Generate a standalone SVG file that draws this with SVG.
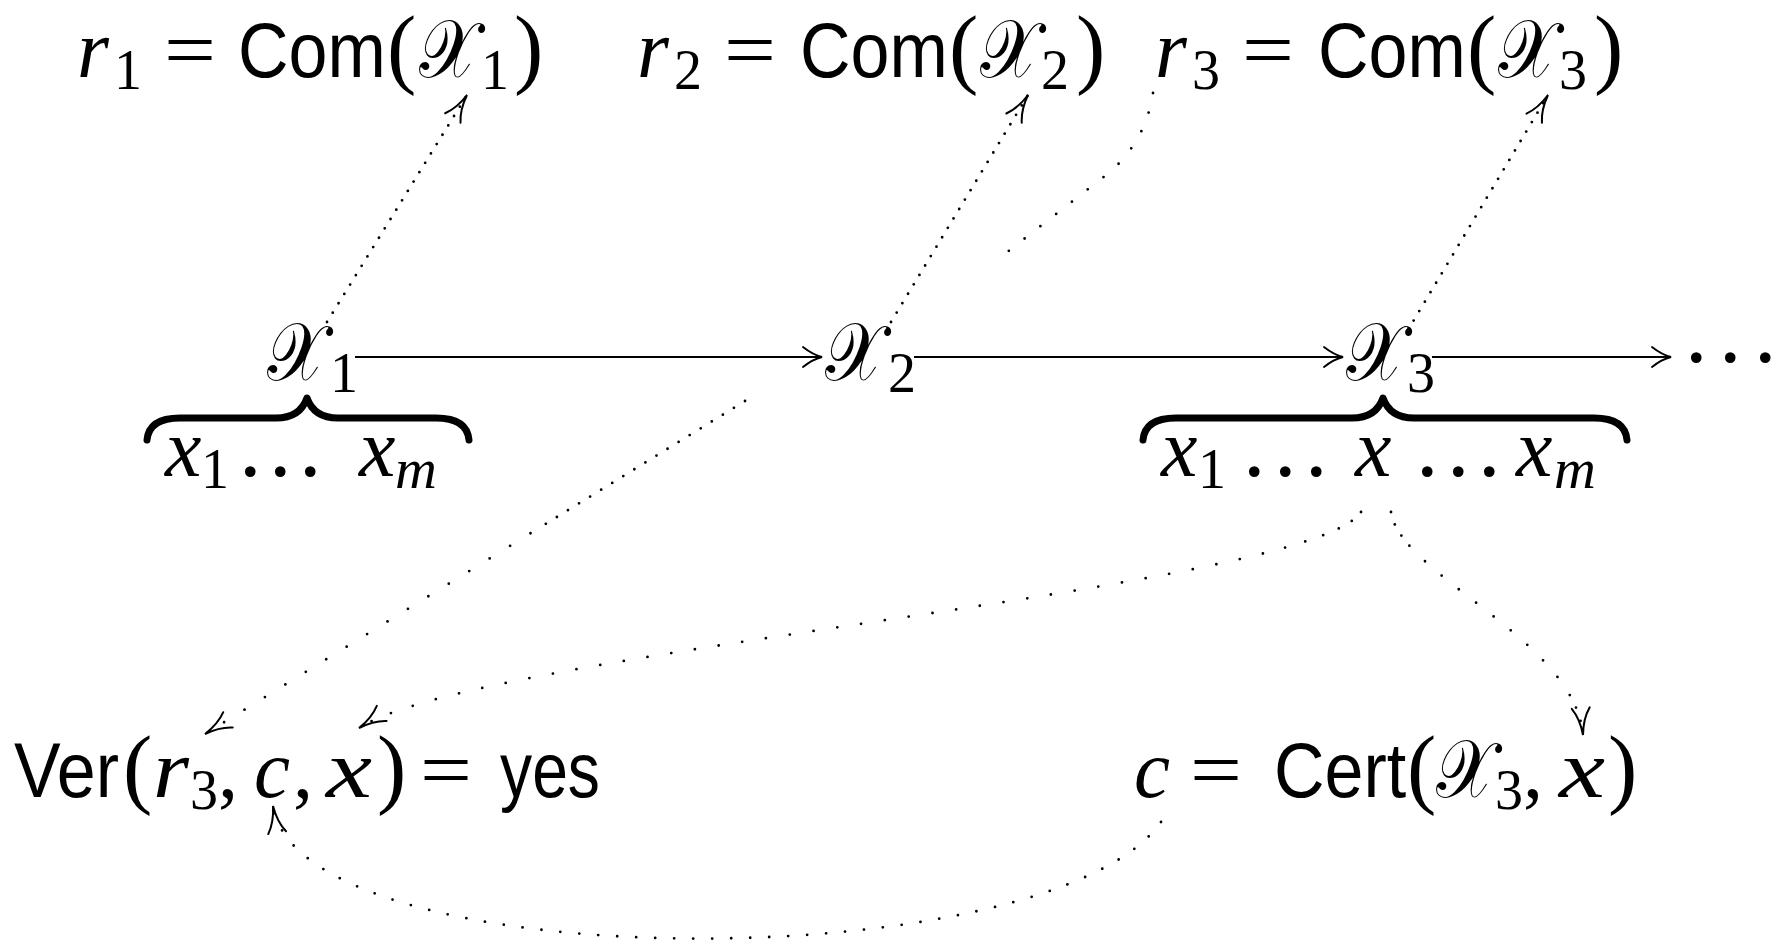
<svg xmlns="http://www.w3.org/2000/svg" width="1785" height="941" viewBox="0 0 1785 941">
<style>
text{fill:#000}
.mi{font-family:"Liberation Serif",serif;font-style:italic;font-size:82px}
.rm{font-family:"Liberation Serif",serif;font-size:80px}
.dots{font-family:"Liberation Serif",serif;font-size:90px}
.par{font-family:"Liberation Serif",serif;font-size:88px}
.sub{font-family:"Liberation Serif",serif;font-size:56px}
.subi{font-family:"Liberation Serif",serif;font-style:italic;font-size:58px}
.sf{font-family:"Liberation Sans",sans-serif;font-size:70px}
.cal{font-family:"DejaVu Serif","DejaVu Sans","Liberation Serif",serif;font-size:68px}
.solid{fill:none;stroke:#000;stroke-width:1.8}
.dot{fill:none;stroke:#000;stroke-width:2.8;stroke-linecap:round;stroke-dasharray:0 11}
.brace{fill:none;stroke:#000;stroke-width:7;stroke-linecap:round;stroke-linejoin:round}
</style>
<defs>
<marker id="ah" viewBox="-24 -14 28 28" refX="0" refY="0" markerWidth="28" markerHeight="28" markerUnits="userSpaceOnUse" orient="auto">
<path d="M-19,-10 C-12,-4.5 -5,-1.2 0,0 C-5,1.2 -12,4.5 -19,10" fill="none" stroke="#000" stroke-width="1.9" stroke-dasharray="none" stroke-linecap="round"/>
</marker>
<marker id="ahd" viewBox="-32 -14 36 28" refX="0" refY="0" markerWidth="36" markerHeight="28" markerUnits="userSpaceOnUse" orient="auto">
<path d="M-27,-9 C-19,-3.5 -8,-0.8 0,0 C-8,0.8 -19,3.5 -27,9" fill="none" stroke="#000" stroke-width="2" stroke-dasharray="none" stroke-linecap="round"/>
</marker>
</defs>

<g id="com1">
<text class="mi" x="77" y="77">r</text><text class="sub" x="114" y="89">1</text>
<text class="rm" x="164" y="77" textLength="52" lengthAdjust="spacingAndGlyphs">=</text>
<text class="sf" transform="translate(238,77) scale(1,1.1)">Com</text>
<text class="par" x="387" y="77">(</text>
<text class="cal" transform="translate(419,77) scale(1,1.2)">𝒳</text><text class="sub" x="481" y="89">1</text>
<text class="par" x="514" y="77">)</text>
</g>
<g id="com2">
<text class="mi" x="637" y="77">r</text><text class="sub" x="674" y="89">2</text>
<text class="rm" x="724" y="77" textLength="52" lengthAdjust="spacingAndGlyphs">=</text>
<text class="sf" transform="translate(800,77) scale(1,1.1)">Com</text>
<text class="par" x="949" y="77">(</text>
<text class="cal" transform="translate(980,77) scale(1,1.2)">𝒳</text><text class="sub" x="1041" y="89">2</text>
<text class="par" x="1076" y="77">)</text>
</g>
<g id="com3">
<text class="mi" x="1155" y="77">r</text><text class="sub" x="1192" y="89">3</text>
<text class="rm" x="1242" y="77" textLength="52" lengthAdjust="spacingAndGlyphs">=</text>
<text class="sf" transform="translate(1318,77) scale(1,1.1)">Com</text>
<text class="par" x="1467" y="77">(</text>
<text class="cal" transform="translate(1498,77) scale(1,1.2)">𝒳</text><text class="sub" x="1559" y="89">3</text>
<text class="par" x="1594" y="77">)</text>
</g>

<g id="X1"><text class="cal" transform="translate(267,380) scale(1,1.2)">𝒳</text><text class="sub" x="330" y="392">1</text></g>
<g id="X2"><text class="cal" transform="translate(825,380) scale(1,1.2)">𝒳</text><text class="sub" x="888" y="392">2</text></g>
<g id="X3"><text class="cal" transform="translate(1346,380) scale(1,1.2)">𝒳</text><text class="sub" x="1407" y="392">3</text></g>
<g id="more"><text class="dots" x="1685 1719 1754" y="362">...</text></g>

<g id="block1">
<path class="brace" d="M147,440 Q149,418 180,418 L276,418 Q300,418 307,398 Q314,418 338,418 L436,418 Q467,418 469,440"/>
<text class="mi" x="165" y="476">x</text><text class="sub" x="201" y="488">1</text>
<text class="dots" x="239 269 299" y="476">...</text>
<text class="mi" x="359" y="476">x</text><text class="subi" x="395" y="488">m</text>
</g>
<g id="block3">
<path class="brace" d="M1143,440 Q1145,418 1176,418 L1352,418 Q1376,418 1383,398 Q1390,418 1414,418 L1594,418 Q1625,418 1627,440"/>
<text class="mi" x="1161" y="476">x</text><text class="sub" x="1198" y="488">1</text>
<text class="dots" x="1243 1274 1305" y="476">...</text>
<text class="mi" x="1355" y="476">x</text>
<text class="dots" x="1416 1447 1478" y="476">...</text>
<text class="mi" x="1516" y="476">x</text><text class="subi" x="1554" y="488">m</text>
</g>

<g id="ver">
<text class="sf" transform="translate(14,797) scale(1,1.1)">Ver</text>
<text class="par" x="123" y="797">(</text>
<text class="mi" x="153" y="797" textLength="36" lengthAdjust="spacingAndGlyphs">r</text><text class="sub" x="190" y="809">3</text>
<text class="rm" x="218" y="797">,</text>
<text class="mi" x="254" y="797" textLength="36" lengthAdjust="spacingAndGlyphs">c</text>
<text class="rm" x="293" y="797">,</text>
<text class="mi" x="326" y="797" textLength="46" lengthAdjust="spacingAndGlyphs">x</text>
<text class="par" x="377" y="797">)</text>
<text class="rm" x="420" y="797" textLength="52" lengthAdjust="spacingAndGlyphs">=</text>
<text class="sf" transform="translate(500,797) scale(1,1.1)" textLength="100" lengthAdjust="spacingAndGlyphs">yes</text>
</g>
<g id="cert">
<text class="mi" x="1134" y="797" textLength="36" lengthAdjust="spacingAndGlyphs">c</text>
<text class="rm" x="1190" y="797" textLength="52" lengthAdjust="spacingAndGlyphs">=</text>
<text class="sf" transform="translate(1274,797) scale(1,1.1)">Cert</text>
<text class="par" x="1407" y="797">(</text>
<text class="cal" transform="translate(1436,797) scale(1,1.2)">𝒳</text><text class="sub" x="1495" y="809">3</text>
<text class="rm" x="1523" y="797">,</text>
<text class="mi" x="1559" y="797" textLength="46" lengthAdjust="spacingAndGlyphs">x</text>
<text class="par" x="1608" y="797">)</text>
</g>

<g id="connectors">
<path class="solid" d="M355,357 L822,357" marker-end="url(#ah)"/>
<path class="solid" d="M914,357 L1343,357" marker-end="url(#ah)"/>
<path class="solid" d="M1432,357 L1671,357" marker-end="url(#ah)"/>
<path class="dot" d="M327,322 L467,95" marker-end="url(#ahd)"/>
<path class="dot" d="M891,322 L1028,95" marker-end="url(#ahd)"/>
<path class="dot" d="M1408,330 L1548,95" marker-end="url(#ahd)"/>
<path class="dot" style="stroke-dasharray:0 20" d="M1153,93 Q1146,140 1110,172 L997,260"/>
<path class="dot" style="stroke-dasharray:0 13 0 13 0 13 0 13 0 13 0 13 0 13 0 13 0 13 0 13 0 13 0 13 0 13 0 13 0 13 0 13 0 13 0 13 0 18 0 24 0 24 0 24 0 24 0 24 0 24 0 24 0 24 0 24 0 24 0 24 0 24 0 24 0 24 0 24 0 24 0 60" d="M745,401 L205,734" marker-end="url(#ahd)"/>
<path class="dot" style="stroke-dasharray:0 13 0 15 0 17 0 19 0 21 0 23 0 24 0 24 0 24 0 24 0 24 0 24 0 24 0 24 0 24 0 24 0 24 0 24 0 24 0 24 0 24 0 24 0 24 0 24 0 24 0 24 0 24 0 24 0 24 0 24 0 24 0 24 0 24 0 24 0 24 0 24 0 24 0 24 0 24 0 24 0 24 0 24 0 23 0 21 0 19 0 17 0 15 0 13 0 13 0 200" d="M1361,512 C1310,590 480,650 359,728" marker-end="url(#ahd)"/>
<path class="dot" style="stroke-dasharray:0 13 0 13 0 13 0 22 0 22 0 22 0 22 0 22 0 22 0 22 0 22 0 22 0 22 0 14 0 14 0 100" d="M1391,512 C1400,575 1575,640 1583,735" marker-end="url(#ahd)"/>
<path class="dot" style="stroke-dasharray:0 19" d="M1161,822 C1050,980 300,980 273,806" marker-end="url(#ahd)"/>
</g>
</svg>
